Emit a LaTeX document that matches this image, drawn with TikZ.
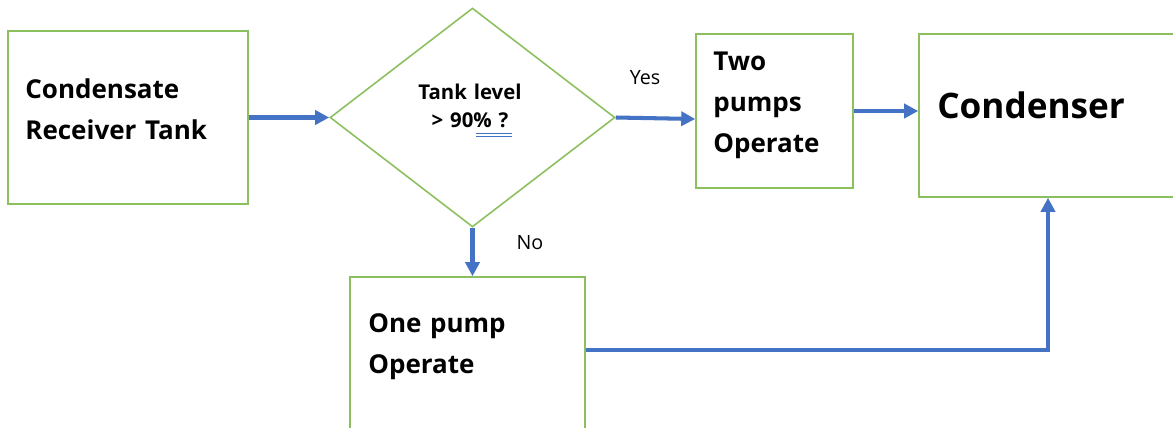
\documentclass[tikz,border=0pt]{standalone}
\usepackage{fontspec}
\setmainfont{Open Sans}
\usetikzlibrary{shapes.geometric,arrows.meta}
\definecolor{boxgreen}{RGB}{140,192,95}
\definecolor{flowblue}{RGB}{68,114,196}

\begin{document}
\begin{tikzpicture}[x=0.02cm,y=-0.02cm,
    box/.style={draw=boxgreen,line width=0.9pt,rectangle,inner sep=0pt},
    flow/.style={draw=flowblue,line width=2.3pt,-{Triangle[length=0.28cm,width=0.28cm]}},
    txt/.style={inner sep=0pt,anchor=base west,text width=6cm,align=left,
        font=\bfseries\fontsize{14.8pt}{23.5pt}\selectfont},
    answer/.style={inner sep=0pt,font=\fontsize{11.2pt}{14pt}\selectfont}]
    \useasboundingbox (0,0) rectangle (1173,427);
    \clip (0,0) rectangle (1173,427);
    % boxes
    \node[box,minimum width=4.8cm,minimum height=3.46cm] (tank) at (128,117.5) {};
    \node[box,diamond,minimum width=5.7cm,minimum height=4.38cm] (level) at (472.5,117.5) {};
    \node[box,minimum width=3.14cm,minimum height=3.08cm] (two) at (774.5,111) {};
    \node[box,minimum width=5.16cm,minimum height=3.26cm] (cond) at (1048,115.5) {};
    \node[box,minimum width=4.7cm,minimum height=3.26cm] (one) at (467.5,358.5) {};
    % texts
    \node[txt] (tanktxt) at (25,98) {Condensate\\Receiver Tank};
    \node[txt] (twotxt) at (713,70) {Two\\pumps\\Operate};
    \node[txt] (onetxt) at (368,332) {One pump\\Operate};
    \node[txt,font=\bfseries\fontsize{20pt}{26pt}\selectfont] (condtxt) at (937,118) {Condenser};
    \node[inner sep=0pt,anchor=base,text width=4cm,align=center,
        font=\bfseries\fontsize{11.6pt}{16pt}\selectfont] (leveltxt) at (470,99) {Tank level\\> 90\% ?};
    \draw[flowblue,line width=0.5pt] (476,133) -- (512,133) (476,136) -- (512,136);
    \node[answer] (yes) at (645,78) {Yes};
    \node[answer] (no) at (530,243) {No};
    % connectors
    \coordinate (turn) at (1048,350);
    \draw[flow] (tank.east) -- (level.west);
    \draw[flow] (level.east) -- ([yshift=-0.16cm]two.west);
    \draw[flow] (two.east) -- (two.east -| cond.west);
    \draw[flow] (level.south) -- (level.south |- one.north);
    \draw[flow] (one.east |- turn) -- (turn) -- (turn |- cond.south);
\end{tikzpicture}
\end{document}
